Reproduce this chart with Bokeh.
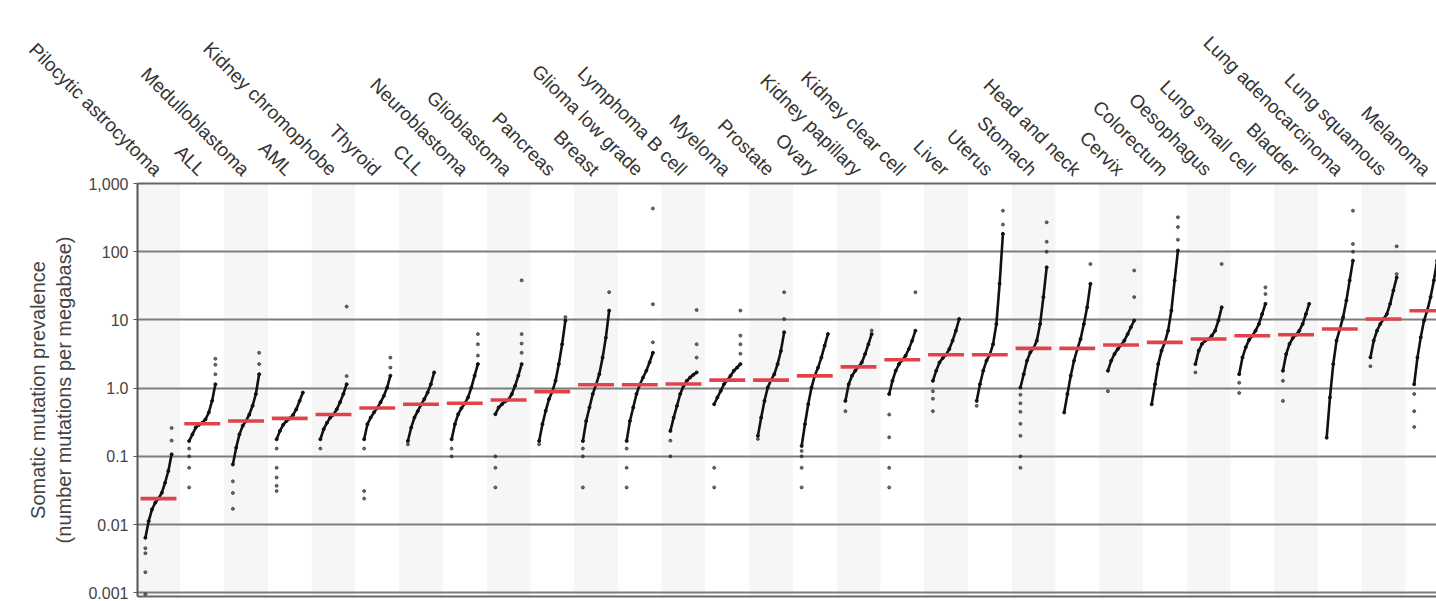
import math
from bokeh.plotting import figure
from bokeh.models import Range1d, FixedTicker, CustomJSTickFormatter, LinearAxis
from bokeh.embed import file_html
from bokeh.resources import INLINE

cancer_types = ["Pilocytic astrocytoma", "ALL", "Medulloblastoma", "AML", "Kidney chromophobe",
                "Thyroid", "CLL", "Neuroblastoma", "Glioblastoma", "Pancreas", "Breast",
                "Glioma low grade", "Lymphoma B cell", "Myeloma", "Prostate", "Ovary",
                "Kidney papillary", "Kidney clear cell", "Liver", "Uterus", "Stomach",
                "Head and neck", "Cervix", "Colorectum", "Oesophagus", "Lung small cell",
                "Bladder", "Lung adenocarcinoma", "Lung squamous", "Melanoma"]

medians = [0.024, 0.30, 0.33, 0.36, 0.41, 0.51, 0.58, 0.60, 0.67, 0.89, 1.12, 1.12, 1.15,
           1.31, 1.31, 1.51, 2.05, 2.6, 3.09, 3.09, 3.83, 3.83, 4.28, 4.68, 5.25, 5.86,
           6.07, 7.35, 10.3, 13.6]

# sorted per-sample values along each curve (read at even rank steps)
curves = [
    [0.0064, 0.0112, 0.0166, 0.0209, 0.0241, 0.0292, 0.041, 0.061, 0.107],
    [0.168, 0.21, 0.264, 0.29, 0.31, 0.35, 0.44, 0.65, 1.14],
    [0.076, 0.134, 0.21, 0.28, 0.33, 0.41, 0.55, 0.82, 1.6],
    [0.178, 0.236, 0.29, 0.33, 0.36, 0.405, 0.49, 0.65, 0.86],
    [0.178, 0.25, 0.31, 0.37, 0.41, 0.49, 0.62, 0.82, 1.14],
    [0.178, 0.296, 0.37, 0.44, 0.51, 0.62, 0.77, 1.02, 1.52],
    [0.168, 0.264, 0.37, 0.46, 0.57, 0.69, 0.86, 1.14, 1.7],
    [0.178, 0.296, 0.415, 0.51, 0.595, 0.73, 1.02, 1.52, 2.25],
    [0.415, 0.52, 0.58, 0.64, 0.68, 0.82, 1.08, 1.52, 2.25],
    [0.168, 0.296, 0.465, 0.69, 0.89, 1.28, 2.25, 4.4, 9.8],
    [0.168, 0.33, 0.52, 0.82, 1.12, 1.6, 2.8, 5.5, 13.7],
    [0.168, 0.33, 0.52, 0.82, 1.12, 1.43, 1.8, 2.4, 3.3],
    [0.236, 0.37, 0.55, 0.82, 1.08, 1.28, 1.43, 1.57, 1.7],
    [0.58, 0.73, 0.91, 1.14, 1.31, 1.52, 1.8, 2.0, 2.25],
    [0.2, 0.37, 0.65, 1.02, 1.31, 1.6, 2.25, 3.5, 6.6],
    [0.142, 0.296, 0.58, 1.02, 1.52, 2.0, 2.8, 4.2, 6.2],
    [0.65, 1.14, 1.52, 1.8, 2.06, 2.38, 3.16, 4.4, 6.2],
    [0.82, 1.28, 1.8, 2.25, 2.58, 2.98, 3.74, 4.97, 6.95],
    [1.28, 1.8, 2.38, 2.76, 3.09, 3.74, 4.97, 6.95, 10.3],
    [0.65, 1.14, 1.8, 2.52, 3.09, 4.4, 8.7, 34, 183],
    [1.02, 1.6, 2.52, 3.34, 3.83, 4.97, 8.7, 21.6, 59],
    [0.44, 0.82, 1.52, 2.52, 3.74, 5.25, 8.7, 15.3, 33.8],
    [1.8, 2.52, 3.16, 3.74, 4.28, 4.97, 6.2, 7.8, 9.8],
    [0.58, 1.14, 2.25, 3.54, 4.68, 6.95, 13.7, 37.9, 104],
    [2.25, 3.54, 4.44, 4.97, 5.25, 5.88, 6.95, 9.77, 15.3],
    [1.6, 2.82, 3.96, 5.08, 5.88, 6.95, 8.7, 12.2, 17.2],
    [1.8, 3.16, 4.44, 5.43, 6.07, 6.95, 8.7, 12.2, 17.2],
    [0.188, 0.73, 2.25, 4.97, 7.35, 10.9, 19.2, 37.9, 74],
    [2.82, 4.97, 6.95, 8.7, 10.3, 12.2, 17.2, 27, 42],
    [1.14, 2.82, 5.55, 9.77, 13.8, 21.6, 37.9, 74, 147],
]

upper_outliers = [
    [0.17, 0.26], [1.6, 2.2, 2.7], [2.25, 3.3], [], [1.5, 15.7], [2.0, 2.8], [],
    [3.0, 4.4, 6.2], [3.3, 4.5, 6.2, 38], [11], [25.5], [4.7, 17, 430], [2.8, 4.4, 14],
    [3.2, 4.4, 5.9, 13.7], [10.3, 25.5], [], [7.0], [25.5], [], [250, 400],
    [100, 140, 270], [66], [21.6, 53], [150, 230, 320], [66], [24, 30], [],
    [100, 130, 400], [47, 120], [],
]

lower_outliers = [
    [0.0045, 0.0038, 0.002, 0.00095], [0.13, 0.10, 0.068, 0.035], [0.043, 0.029, 0.017],
    [0.13, 0.068, 0.049, 0.037, 0.031], [0.13], [0.13, 0.031, 0.024], [0.15], [0.13, 0.10],
    [0.10, 0.068, 0.035], [0.15], [0.13, 0.10, 0.035], [0.13, 0.068, 0.035], [0.17, 0.10],
    [0.068, 0.035], [0.18], [0.12, 0.10, 0.068, 0.035], [0.46], [0.41, 0.19, 0.068, 0.035],
    [0.9, 0.7, 0.46], [0.55], [0.8, 0.6, 0.45, 0.3, 0.2, 0.1, 0.068], [], [0.9], [], [1.7],
    [1.2, 0.85], [1.28, 0.65], [], [2.1], [0.82, 0.46, 0.27],
]

y_ticks = [0.001, 0.01, 0.1, 1, 10, 100, 1000]
y_tick_labels = ["0.001", "0.01", "0.1", "1.0", "10", "100", "1,000"]

FONT = "Liberation Sans"
HALF = 0.3

p = figure(width=1436, height=601, x_range=Range1d(-0.48, 29.21),
           y_range=Range1d(10 ** -3.055, 1000), y_axis_type="log",
           x_axis_location="above", output_backend="svg", toolbar_location=None,
           min_border_left=137, min_border_right=0, min_border_top=183, min_border_bottom=5)
p.outline_line_color = None
p.background_fill_color = "white"
p.border_fill_color = "white"

n = len(cancer_types)
# alternating background bands
band_x = [i for i in range(n) if i % 2 == 0]
p.quad(left=[i - 0.5 for i in band_x], right=[i + 0.5 for i in band_x],
       bottom=1e-5, top=1e5, fill_color="#ececec", fill_alpha=0.45, line_color=None,
       level="image")

# curves
xs, ys, px, py = [], [], [], []
for i, vals in enumerate(curves):
    m = len(vals)
    cx = [i - HALF + 2 * HALF * k / (m - 1) for k in range(m)]
    xs.append(cx)
    ys.append(vals)
    px += cx
    py += vals
p.multi_line(xs=xs, ys=ys, line_color="#111111", line_width=2.6)
p.scatter(px, py, size=3, color="#111111")

# tails
ox, oy = [], []
for i in range(n):
    for v in lower_outliers[i]:
        ox.append(i - HALF)
        oy.append(v)
    for v in upper_outliers[i]:
        ox.append(i + HALF)
        oy.append(v)
p.scatter(ox, oy, size=3, color="#222222", alpha=0.65)

# medians
p.segment(x0=[i - 0.41 for i in range(n)], x1=[i + 0.41 for i in range(n)],
          y0=medians, y1=medians, line_color="#e0434a", line_width=3.6)

# x axis (top)
xa = p.xaxis[0]
xa.ticker = FixedTicker(ticks=list(range(n)))
xa.formatter = CustomJSTickFormatter(args=dict(names=cancer_types), code="""
const k = Math.round(tick);
return (k >= 0 && k < names.length) ? names[k] : "";
""")
xa.major_label_orientation = -math.pi / 4
xa.major_label_text_font = FONT
xa.major_label_text_font_size = "19px"
xa.major_label_text_color = "#333333"
xa.major_tick_line_color = None
xa.major_tick_out = 0
xa.major_tick_in = 0
xa.minor_tick_line_color = None
xa.major_label_standoff = 11
xa.axis_line_color = "#666666"
xa.axis_line_width = 2
p.xgrid.visible = False

# y axis
ya = p.yaxis[0]
ya.ticker = FixedTicker(ticks=y_ticks)
ya.formatter = CustomJSTickFormatter(args=dict(labels=y_tick_labels), code="""
const k = Math.round(Math.log10(tick)) + 3;
return (k >= 0 && k < labels.length) ? labels[k] : "";
""")
ya.major_label_text_font = FONT
ya.major_label_text_font_size = "16px"
ya.major_label_text_color = "#444444"
ya.axis_line_color = "#555555"
ya.axis_line_width = 2
ya.major_tick_line_color = "#555555"
ya.major_tick_out = 4
ya.major_tick_in = 0
ya.minor_tick_line_color = None
ya.major_label_standoff = 5
ya.axis_label = "Somatic mutation prevalence\n(number mutations per megabase)"
ya.axis_label_text_font = FONT
ya.axis_label_text_font_size = "20px"
ya.axis_label_text_font_style = "normal"
ya.axis_label_text_color = "#444444"
ya.axis_label_standoff = 10

p.ygrid.ticker = FixedTicker(ticks=y_ticks)
p.ygrid.grid_line_color = "#7c7c7c"
p.ygrid.grid_line_width = 2

bottom = LinearAxis(ticker=FixedTicker(ticks=[]), axis_line_color="#666666", axis_line_width=2,
                    major_tick_out=0, major_tick_in=0, minor_tick_out=0, minor_tick_in=0,
                    major_label_standoff=0, major_label_text_font_size="0px")
p.add_layout(bottom, "below")

open("out.html", "w").write(file_html(p, INLINE))
